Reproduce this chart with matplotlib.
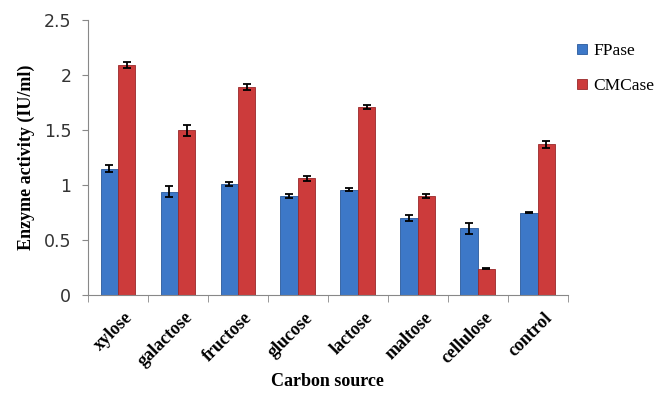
import numpy as np
import matplotlib.pyplot as plt

sources = ['xylose', 'galactose', 'fructose', 'glucose', 'lactose', 'maltose', 'cellulose', 'control']
fpase = [1.15, 0.94, 1.01, 0.90, 0.96, 0.70, 0.61, 0.75]
fpase_err = [0.03, 0.05, 0.02, 0.02, 0.01, 0.03, 0.05, 0.005]
cmcase = [2.09, 1.50, 1.89, 1.06, 1.71, 0.90, 0.24, 1.37]
cmcase_err = [0.03, 0.05, 0.03, 0.02, 0.02, 0.02, 0.005, 0.03]

fig = plt.figure(figsize=(6.64, 4.01), dpi=100)
ax = fig.add_axes([0.1325, 0.264, 0.7225, 0.686])

x = np.arange(len(sources))
w = 0.29
ekw = dict(elinewidth=1.3, capthick=1.3)
ax.bar(x - w/2, fpase, w, yerr=fpase_err, capsize=3, color='#3d78c8',
       edgecolor='#2a5a9c', linewidth=0.6, label='FPase', error_kw=ekw, ecolor='black')
ax.bar(x + w/2, cmcase, w, yerr=cmcase_err, capsize=3, color='#cc3b3b',
       edgecolor='#99292a', linewidth=0.6, label='CMCase', error_kw=ekw, ecolor='black')

ax.set_xlim(-0.5, len(sources) - 0.5)
ax.set_ylim(0, 2.5)
ax.set_yticks([0, 0.5, 1, 1.5, 2, 2.5])
ax.set_yticklabels(['0', '0.5', '1', '1.5', '2', '2.5'], fontsize=12.5, color='#333333')
ax.set_xticks(x + 0.1)
ax.set_xticklabels(sources, rotation=45, ha='right', rotation_mode='anchor',
                   fontsize=13, fontweight='bold', family='Liberation Serif')
ax.tick_params(axis='x', which='major', length=0, pad=10)
ax.set_xticks(np.arange(-0.5, len(sources)), minor=True)
ax.tick_params(axis='x', which='minor', length=5, color='#888888')
ax.tick_params(axis='y', length=4, color='#888888', pad=8)

for s in ['top', 'right']:
    ax.spines[s].set_visible(False)
for s in ['left', 'bottom']:
    ax.spines[s].set_color('#888888')

ax.set_xlabel('Carbon source', fontsize=13, fontweight='bold', family='Liberation Serif', labelpad=2)
ax.set_ylabel('Enzyme activity (IU/ml)', fontsize=13, fontweight='bold', family='Liberation Serif', labelpad=6)

ax.legend(loc='upper left', bbox_to_anchor=(0.995, 0.96), frameon=False,
          prop={'family': 'Liberation Serif', 'size': 12.5}, handlelength=0.55,
          handleheight=0.55, labelspacing=1.1, handletextpad=0.35, borderaxespad=0.3)

fig.savefig('out.png', dpi=100)
